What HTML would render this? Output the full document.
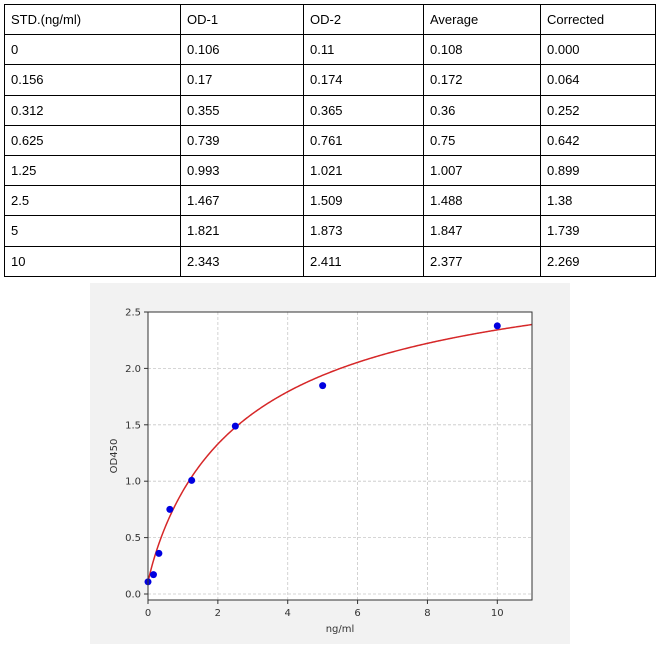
<!DOCTYPE html>
<html><head><meta charset="utf-8"><style>
body{margin:0;background:#fff;width:662px;height:647px;overflow:hidden;font-family:"Liberation Sans",sans-serif}
table{position:absolute;left:4px;top:4px;border-collapse:collapse;font-size:13px;color:#000}
td{border:1px solid #000;height:30.2px;padding:0 0 0 6px;box-sizing:border-box;vertical-align:middle}
</style></head><body>
<table>
<tr><td style="width:176px">STD.(ng/ml)</td><td style="width:123px">OD-1</td><td style="width:120px">OD-2</td><td style="width:117px">Average</td><td style="width:115px">Corrected</td></tr>
<tr><td>0</td><td>0.106</td><td>0.11</td><td>0.108</td><td>0.000</td></tr>
<tr><td>0.156</td><td>0.17</td><td>0.174</td><td>0.172</td><td>0.064</td></tr>
<tr><td>0.312</td><td>0.355</td><td>0.365</td><td>0.36</td><td>0.252</td></tr>
<tr><td>0.625</td><td>0.739</td><td>0.761</td><td>0.75</td><td>0.642</td></tr>
<tr><td>1.25</td><td>0.993</td><td>1.021</td><td>1.007</td><td>0.899</td></tr>
<tr><td>2.5</td><td>1.467</td><td>1.509</td><td>1.488</td><td>1.38</td></tr>
<tr><td>5</td><td>1.821</td><td>1.873</td><td>1.847</td><td>1.739</td></tr>
<tr><td>10</td><td>2.343</td><td>2.411</td><td>2.377</td><td>2.269</td></tr>
</table>
<svg id="s" width="662" height="647" style="position:absolute;left:0;top:0" font-family="DejaVu Sans, sans-serif" font-size="10" fill="#333">
<rect x="90" y="283" width="480" height="361" fill="#f2f2f2"/>
<rect x="148" y="312" width="384" height="288" fill="#fff"/>
<g id="g" stroke="#c8c8c8" stroke-dasharray="3,2" stroke-width="0.8"></g>
<path id="c" fill="none" stroke="#d62728" stroke-width="1.5"/>
<g id="p" fill="#0000e0"></g>
<rect x="148" y="312" width="384" height="288" fill="none" stroke="#333" stroke-width="1"/>
<g id="t" stroke="#333"></g>
<text x="340" y="632" text-anchor="middle">ng/ml</text>
<text transform="translate(117,456) rotate(-90)" text-anchor="middle">OD450</text>
</svg>
<script>
var X=function(v){return 148+v*34.93},Y=function(v){return 594-v*112.8};
var g=document.getElementById('g'),t=document.getElementById('t'),s=document.getElementById('s'),h='',th='',tx='';
for(var i=0;i<=10;i+=2){var x=X(i);h+='<line x1="'+x+'" x2="'+x+'" y1="312" y2="600"/>';th+='<line x1="'+x+'" x2="'+x+'" y1="600" y2="604"/>';tx+='<text x="'+x+'" y="616" text-anchor="middle" stroke="none">'+i+'</text>';}
for(var j=0;j<=5;j++){var v=j*0.5,y=Y(v);h+='<line x1="148" x2="532" y1="'+y+'" y2="'+y+'"/>';th+='<line x1="144" x2="148" y1="'+y+'" y2="'+y+'"/>';tx+='<text x="141" y="'+(y+3.5)+'" text-anchor="end" stroke="none">'+v.toFixed(1)+'</text>';}
g.innerHTML=h;t.innerHTML=th+tx;
var d='';for(var k=0;k<=400;k++){var xv=k*11/400;var yv=3.1-3.0/(1+Math.pow(xv/3,0.9));d+=(k?'L':'M')+X(xv).toFixed(2)+','+Y(yv).toFixed(2);}
document.getElementById('c').setAttribute('d',d);
var pts=[[0,0.108],[0.156,0.172],[0.312,0.36],[0.625,0.75],[1.25,1.007],[2.5,1.488],[5,1.847],[10,2.377]],ph='';
pts.forEach(function(p){ph+='<circle cx="'+X(p[0])+'" cy="'+Y(p[1])+'" r="3.5"/>';});
document.getElementById('p').innerHTML=ph;
</script>
</body></html>
